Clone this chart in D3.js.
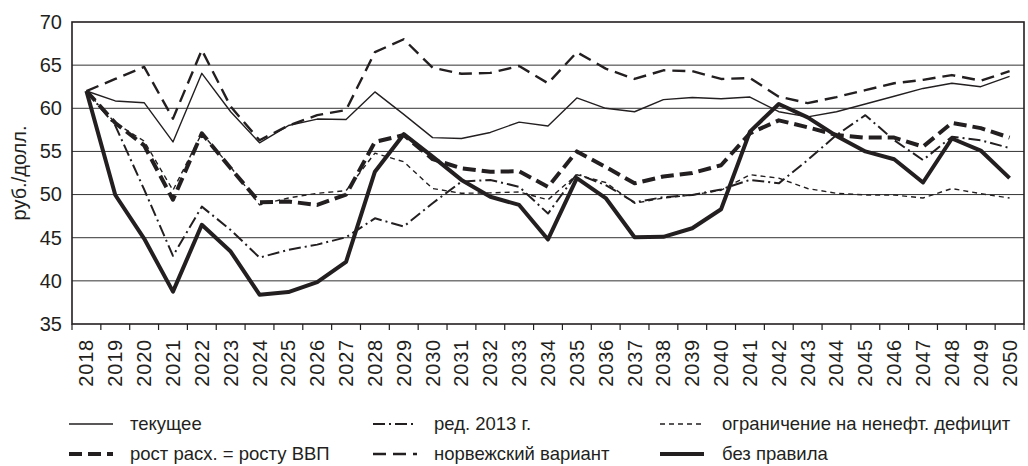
<!DOCTYPE html>
<html>
<head>
<meta charset="utf-8">
<script src="https://cdn.jsdelivr.net/npm/d3@7"></script>
<style>
  body { margin: 0; background: #fff; }
  svg { display: block; font-family: 'Liberation Sans', Arial, sans-serif; }
</style>
</head>
<body>
<div id="chart"></div>
<script>
const years = d3.range(2018, 2051).map(String)
const yTicks = [35, 40, 45, 50, 55, 60, 65, 70]

const tekushchee = [62, 60.85, 60.65, 56.1, 64.05, 59.6, 56.0, 58.0, 58.75, 58.7, 61.9, 59.3, 56.6, 56.5, 57.2, 58.4, 57.95, 61.2, 60.0, 59.6, 61.0, 61.25, 61.1, 61.3, 59.6, 59.0, 59.6, 60.5, 61.4, 62.3, 62.9, 62.5, 63.7]
const red2013 = [62, 58.0, 50.6, 42.9, 48.6, 45.9, 42.7, 43.6, 44.2, 45.05, 47.25, 46.3, 49.0, 51.5, 51.7, 50.9, 47.8, 52.4, 51.1, 49.1, 49.7, 49.95, 50.6, 51.7, 51.3, 54.0, 56.9, 59.2, 56.3, 54.0, 56.7, 56.3, 55.4]
const ogranichenie = [62, 58.3, 56.2, 50.5, 57.1, 53.2, 48.8, 49.6, 50.15, 50.45, 54.8, 53.8, 50.7, 50.15, 50.2, 50.3, 49.4, 52.3, 51.4, 49.0, 49.6, 49.95, 50.5, 52.3, 51.9, 50.7, 50.15, 49.95, 49.95, 49.6, 50.7, 50.1, 49.6]
const rostRaskh = [62, 58.3, 55.7, 49.4, 57.1, 53.05, 49.1, 49.2, 48.8, 50.0, 56.1, 56.9, 54.1, 53.05, 52.65, 52.7, 50.9, 55.0, 53.2, 51.3, 52.1, 52.5, 53.4, 57.1, 58.6, 57.8, 56.9, 56.6, 56.6, 55.55, 58.3, 57.7, 56.6]
const norvezh = [62, 63.4, 64.8, 58.8, 66.75, 60.2, 56.3, 58.0, 59.2, 59.8, 66.5, 68.0, 64.7, 64.0, 64.1, 64.9, 62.9, 66.5, 64.6, 63.4, 64.4, 64.3, 63.4, 63.5, 61.35, 60.6, 61.3, 62.1, 62.9, 63.3, 63.85, 63.2, 64.3]
const bezPravila = [62, 49.95, 44.9, 38.75, 46.5, 43.4, 38.4, 38.7, 39.85, 42.2, 52.65, 57.0, 54.4, 51.7, 49.75, 48.8, 44.8, 51.9, 49.6, 45.05, 45.1, 46.1, 48.3, 57.3, 60.5, 58.95, 56.8, 55.0, 54.1, 51.4, 56.5, 55.1, 51.9]

const seriesNames = ['текущее', 'ред. 2013 г.', 'ограничение на ненефт. дефицит', 'рост расх. = росту ВВП', 'норвежский вариант', 'без правила']

const ink = '#231f20'
const styles = [
  { width: 1.4, dash: null },
  { width: 2, dash: '12,4,2,4' },
  { width: 1.4, dash: '5,4' },
  { width: 4, dash: '13,6' },
  { width: 2.4, dash: '13,7' },
  { width: 4, dash: null },
]
const series = [tekushchee, red2013, ogranichenie, rostRaskh, norvezh, bezPravila]
  .map((values, i) => ({ name: seriesNames[i], values, style: styles[i] }))

const W = 1028, H = 466
const margin = { top: 22, right: 4, bottom: 142, left: 72 }
const plotW = W - margin.left - margin.right
const plotH = H - margin.top - margin.bottom

const svg = d3.select('#chart').append('svg').attr('width', W).attr('height', H)
const plot = svg.append('g').attr('transform', `translate(${margin.left},${margin.top})`)

// scales
const x = d3.scaleBand().domain(years).range([0, plotW])
const y = d3.scaleLinear().domain([35, 70]).range([plotH, 0])
const cx = d => x(d) + x.bandwidth() / 2

// grid
plot.append('g')
  .selectAll('line')
  .data(yTicks.filter(t => t > 35 && t < 70))
  .join('line')
  .attr('x1', 0).attr('x2', plotW)
  .attr('y1', d => y(d)).attr('y2', d => y(d))
  .attr('stroke', '#333').attr('stroke-width', 1)

// frame
plot.append('rect')
  .attr('x', 0).attr('y', 0).attr('width', plotW).attr('height', plotH)
  .attr('fill', 'none').attr('stroke', ink).attr('stroke-width', 1.6)

// y labels
const yAxis = plot.append('g')
  .call(d3.axisLeft(y).tickValues(yTicks).tickSize(0).tickPadding(10))
yAxis.select('.domain').remove()
yAxis.selectAll('text').attr('font-size', '20px').attr('fill', ink)
  .attr('font-family', "'Liberation Sans', Arial, sans-serif")

// x ticks at band edges
plot.append('g')
  .selectAll('line')
  .data(years.map(d => x(d)).concat([plotW]))
  .join('line')
  .attr('x1', d => d).attr('x2', d => d)
  .attr('y1', plotH).attr('y2', plotH + 6)
  .attr('stroke', ink).attr('stroke-width', 1.2)

// x labels
const xAxis = plot.append('g')
  .attr('transform', `translate(0,${plotH})`)
  .call(d3.axisBottom(x).tickSize(0).tickPadding(0))
xAxis.select('.domain').remove()
xAxis.selectAll('text')
  .attr('font-size', '20px')
  .attr('letter-spacing', '0.8px')
  .attr('fill', ink)
  .attr('font-family', "'Liberation Sans', Arial, sans-serif")
  .attr('transform', 'rotate(-90)')
  .attr('text-anchor', 'end')
  .attr('x', -15)
  .attr('y', 0)
  .attr('dy', '0.35em')

// y title
svg.append('text')
  .attr('transform', `translate(19,${margin.top + plotH / 2}) rotate(-90)`)
  .attr('text-anchor', 'middle')
  .attr('dy', '0.35em')
  .attr('font-size', '20px')
  .attr('fill', ink)
  .text('руб./долл.')

// lines
const line = d3.line()
  .x((d, i) => cx(years[i]))
  .y(d => y(d))

plot.append('g')
  .selectAll('path')
  .data(series)
  .join('path')
  .attr('d', d => line(d.values))
  .attr('fill', 'none')
  .attr('stroke', ink)
  .attr('stroke-width', d => d.style.width)
  .attr('stroke-dasharray', d => d.style.dash)
  .attr('stroke-linejoin', 'round')

// legend
const legendCols = [69, 373, 660]
const legendRows = [424, 454]
const legend = svg.append('g')
  .selectAll('g')
  .data(series)
  .join('g')
  .attr('transform', (d, i) => `translate(${legendCols[i % 3]},${legendRows[Math.floor(i / 3)]})`)

legend.append('line')
  .attr('x1', 0).attr('x2', 44)
  .attr('stroke', ink)
  .attr('stroke-width', d => d.style.width)
  .attr('stroke-dasharray', d => d.style.dash)

legend.append('text')
  .attr('x', (d, i) => (i % 3 === 2 ? 62 : 61))
  .attr('dy', '0.35em')
  .attr('font-size', '18.5px')
  .attr('fill', ink)
  .text(d => d.name)
</script>
</body>
</html>
